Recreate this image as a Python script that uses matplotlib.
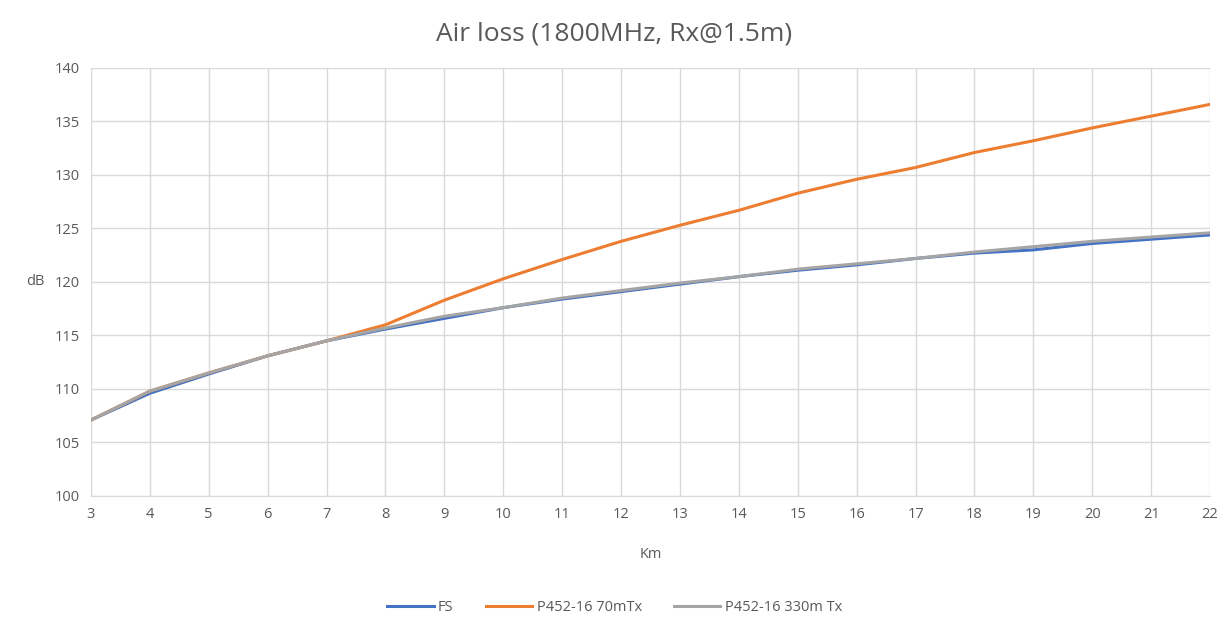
import matplotlib
matplotlib.use("Agg")
import matplotlib.pyplot as plt

# distance in km
km = list(range(3, 23))

fs = [107.1, 109.6, 111.4, 113.1, 114.5, 115.6, 116.6, 117.6, 118.4, 119.1,
      119.8, 120.5, 121.1, 121.6, 122.2, 122.7, 123.0, 123.6, 124.0, 124.4]
p452_70 = [107.1, 109.8, 111.5, 113.1, 114.5, 116.0, 118.3, 120.3, 122.1, 123.8,
           125.3, 126.7, 128.3, 129.6, 130.7, 132.1, 133.2, 134.4, 135.5, 136.6]
p452_330 = [107.1, 109.8, 111.5, 113.1, 114.5, 115.7, 116.8, 117.6, 118.5, 119.2,
            119.9, 120.5, 121.2, 121.7, 122.2, 122.8, 123.3, 123.8, 124.2, 124.6]

plt.rcParams['font.family'] = ['Open Sans', 'DejaVu Sans']
txt = '#595959'

fig = plt.figure(figsize=(12.29, 6.21), dpi=100)
ax = fig.add_axes([0.074, 0.2013, 0.9106, 0.6892])

ax.plot(km, fs, color='#4472C4', lw=2.2, label='FS')
ax.plot(km, p452_70, color='#ED7D31', lw=2.2, label='P452-16 70mTx')
ax.plot(km, p452_330, color='#A5A5A5', lw=2.2, label='P452-16 330m Tx')

ax.set_xlim(3, 22)
ax.set_ylim(100, 140)
ax.set_xticks(km)
ax.set_yticks(range(100, 141, 5))
ax.grid(True, color='#D9D9D9', lw=1)
ax.set_axisbelow(True)
for s in ['top', 'right', 'left']:
    ax.spines[s].set_visible(False)
ax.spines['bottom'].set_color('#D9D9D9')
ax.tick_params(length=0, labelsize=10.5, colors=txt, pad=8)

ax.set_xlabel('Km', fontsize=10.5, color=txt, labelpad=18)
ax.set_ylabel('dB', fontsize=10.5, color=txt, rotation=0, labelpad=14, va='center')
fig.suptitle('Air loss (1800MHz, Rx@1.5m)', fontsize=19, color=txt, y=0.965)

fig.legend(loc='center', bbox_to_anchor=(0.5, 0.022), ncol=3, frameon=False,
           fontsize=10.5, labelcolor=txt, handlelength=3.2, handletextpad=0.3,
           columnspacing=2.2)

fig.savefig('out.png', dpi=100)
